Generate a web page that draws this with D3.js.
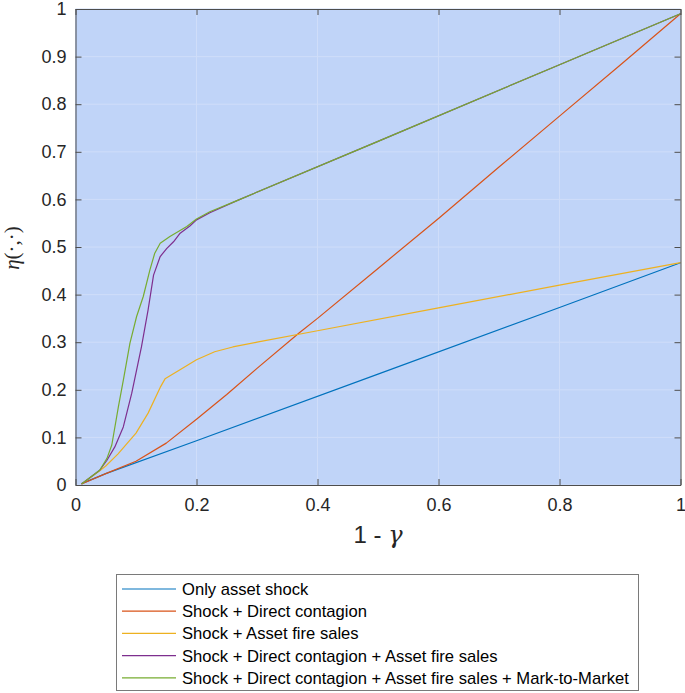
<!DOCTYPE html>
<html>
<head>
<meta charset="utf-8">
<script src="https://cdn.jsdelivr.net/npm/d3@7"></script>
<style>
  body { margin: 0; background: #fff; }
  svg { display: block; font-family: "Liberation Sans", Arial, sans-serif; }
</style>
</head>
<body>
<svg id="chart" width="685" height="693"></svg>
<script>
// data
const xBlue = [0.01, 0.05, 0.2, 0.5, 0.8, 1];
const yBlue = [0.003, 0.024, 0.093, 0.233, 0.373, 0.467];

const xRed = [0.01, 0.05, 0.1, 0.15, 0.2, 0.25, 0.3, 0.37, 0.4, 0.5, 0.6, 0.7, 0.8, 0.9, 1];
const yRed = [0.002, 0.024, 0.05, 0.088, 0.138, 0.19, 0.245, 0.32, 0.35, 0.455, 0.56, 0.668, 0.775, 0.882, 0.99];

const xYellow = [0.01, 0.04, 0.05, 0.07, 0.1, 0.12, 0.14, 0.148, 0.17, 0.2, 0.23, 0.26, 0.3, 0.4, 0.6, 0.8, 1];
const yYellow = [0.002, 0.03, 0.04, 0.065, 0.109, 0.151, 0.205, 0.223, 0.24, 0.263, 0.28, 0.29, 0.3, 0.324, 0.372, 0.42, 0.467];

const xPurple = [0.01, 0.04, 0.052, 0.065, 0.079, 0.093, 0.109, 0.12, 0.129, 0.14, 0.151, 0.162, 0.173, 0.189, 0.2, 0.222, 0.266, 0.5, 0.8, 1];
const yPurple = [0.002, 0.031, 0.052, 0.08, 0.122, 0.193, 0.29, 0.368, 0.441, 0.48, 0.497, 0.511, 0.529, 0.544, 0.557, 0.572, 0.597, 0.722, 0.883, 0.99];

const xGreen = [0.01, 0.04, 0.052, 0.06, 0.071, 0.079, 0.09, 0.101, 0.112, 0.123, 0.131, 0.14, 0.156, 0.184, 0.2, 0.222, 0.266, 0.5, 0.8, 1];
const yGreen = [0.002, 0.031, 0.056, 0.084, 0.165, 0.22, 0.298, 0.354, 0.396, 0.452, 0.487, 0.508, 0.522, 0.543, 0.559, 0.574, 0.597, 0.722, 0.883, 0.99];

const seriesNames = [
  "Only asset shock",
  "Shock + Direct contagion",
  "Shock + Asset fire sales",
  "Shock + Direct contagion + Asset fire sales",
  "Shock + Direct contagion + Asset fire sales + Mark-to-Market"
];
const seriesColors = ["#0072BD", "#D95319", "#EDB120", "#7E2F8E", "#77AC30"];

const xTicks = [0, 0.2, 0.4, 0.6, 0.8, 1];
const yTicks = [0, 0.1, 0.2, 0.3, 0.4, 0.5, 0.6, 0.7, 0.8, 0.9, 1];

const series = [
  [xBlue, yBlue], [xRed, yRed], [xYellow, yYellow], [xPurple, yPurple], [xGreen, yGreen]
].map(function (s, i) {
  return { name: seriesNames[i], color: seriesColors[i], pts: s[0].map((x, j) => [x, s[1][j]]) };
});

const svg = d3.select("#chart");
const pLeft = 75.5, pRight = 680.5, pTop = 9, pBottom = 485;

const x = d3.scaleLinear().domain([0, 1]).range([pLeft, pRight]);
const y = d3.scaleLinear().domain([0, 1]).range([pBottom, pTop]);

// plot background
svg.append("rect")
  .attr("x", pLeft).attr("y", pTop)
  .attr("width", pRight - pLeft).attr("height", pBottom - pTop)
  .attr("fill", "#c0d4f8");

// grid
const grid = svg.append("g").attr("stroke", "#cfddf9").attr("stroke-width", 1);
xTicks.forEach(t => {
  grid.append("line").attr("x1", x(t)).attr("x2", x(t)).attr("y1", pTop).attr("y2", pBottom);
});
yTicks.forEach(t => {
  grid.append("line").attr("x1", pLeft).attr("x2", pRight).attr("y1", y(t)).attr("y2", y(t));
});

// curves
const line = d3.line().x(d => x(d[0])).y(d => y(d[1]));
series.forEach(s => {
  svg.append("path")
    .attr("d", line(s.pts))
    .attr("fill", "none")
    .attr("stroke", s.color)
    .attr("stroke-width", 1.2)
    .attr("stroke-linejoin", "round");
});

// axes (ticks pointing inward)
const axisColor = "#4d4d4d";
const fmt = d => d3.format("")(+d.toFixed(1));
const gx = svg.append("g").attr("transform", "translate(0," + pBottom + ")")
  .call(d3.axisBottom(x).tickValues(xTicks).tickSizeInner(-6).tickSizeOuter(0).tickPadding(13).tickFormat(fmt));
const gxTop = svg.append("g").attr("transform", "translate(0," + pTop + ")")
  .call(d3.axisTop(x).tickValues(xTicks).tickSizeInner(-6).tickSizeOuter(0).tickFormat(""));
const gy = svg.append("g").attr("transform", "translate(" + pLeft + ",0)")
  .call(d3.axisLeft(y).tickValues(yTicks).tickSizeInner(-6).tickSizeOuter(0).tickPadding(9).tickFormat(fmt));
const gyR = svg.append("g").attr("transform", "translate(" + pRight + ",0)")
  .call(d3.axisRight(y).tickValues(yTicks).tickSizeInner(-6).tickSizeOuter(0).tickFormat(""));

[gx, gxTop, gy, gyR].forEach(g => {
  g.select(".domain").attr("stroke", axisColor);
  g.selectAll(".tick line").attr("stroke", axisColor);
  g.selectAll("text").attr("fill", "#262626").attr("font-size", 18)
    .attr("font-family", "'Liberation Sans', Arial, sans-serif");
});

// axis labels
svg.append("text")
  .attr("x", 378).attr("y", 543)
  .attr("text-anchor", "middle")
  .attr("font-size", 24).attr("fill", "#262626")
  .html('1 - <tspan font-family="\'DejaVu Serif\', \'Liberation Serif\', serif" font-style="italic">γ</tspan>');

svg.append("text")
  .attr("transform", "translate(19,248) rotate(-90)")
  .attr("text-anchor", "middle")
  .attr("font-size", 21).attr("fill", "#262626")
  .attr("font-family", "'Liberation Serif', serif")
  .html('<tspan font-style="italic">η</tspan>(·,·)');

// legend
const lg = svg.append("g");
lg.append("rect")
  .attr("x", 116.5).attr("y", 574.5).attr("width", 522).attr("height", 116)
  .attr("fill", "#fff").attr("stroke", "#7a7a7a").attr("stroke-width", 1);
series.forEach((s, i) => {
  const yy = 589 + i * 22.2;
  lg.append("line").attr("x1", 122).attr("x2", 176).attr("y1", yy).attr("y2", yy)
    .attr("stroke", s.color).attr("stroke-width", 1.2);
  lg.append("text").attr("x", 182).attr("y", yy).attr("dy", "0.36em")
    .attr("font-size", 16.6).attr("fill", "#000").text(s.name);
});
</script>
</body>
</html>
